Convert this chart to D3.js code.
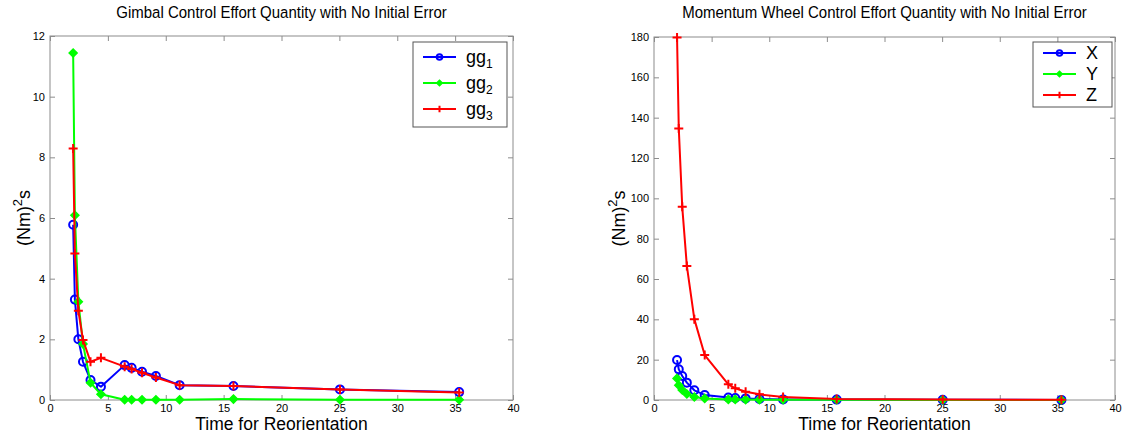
<!DOCTYPE html>
<html>
<head>
<meta charset="utf-8">
<script src="https://cdn.jsdelivr.net/npm/d3@7"></script>
<style>
  body { margin: 0; background: #fff; }
  svg text { font-family: "Liberation Sans", Arial, sans-serif; }
</style>
</head>
<body>
<svg id="chart" width="1131" height="434"></svg>
<script>
// ######### DATA ###########
// time for reorientation (shared by every series)
var times = [2.0, 2.15, 2.45, 2.85, 3.5, 4.4, 6.45, 7.05, 7.95, 9.15, 11.2, 15.85, 25.05, 35.35];

// gimbal effort
var gg1 = [5.78, 3.31, 2.0, 1.26, 0.66, 0.44, 1.15, 1.06, 0.93, 0.79, 0.49, 0.46, 0.35, 0.26];
var gg2 = [11.44, 6.09, 3.24, 1.85, 0.57, 0.19, 0.01, 0.01, 0.01, 0.01, 0.01, 0.03, 0.01, 0.01];
var gg3 = [8.29, 4.83, 2.94, 1.98, 1.26, 1.39, 1.10, 1.02, 0.90, 0.74, 0.49, 0.46, 0.35, 0.25];

// momentum wheel effort
var wX = [19.8, 15.2, 11.9, 8.6, 4.8, 2.5, 1.2, 1.0, 0.8, 0.5, 0.3, 0.2, 0.1, 0.05];
var wY = [10.7, 7.3, 5.0, 3.0, 1.5, 0.8, 0.3, 0.3, 0.2, 0.15, 0.1, 0.1, 0.05, 0.02];
var wZ = [179.7, 134.6, 95.8, 66.5, 40.1, 22.3, 7.8, 5.8, 4.1, 2.8, 1.5, 0.5, 0.2, 0.1];

var xTicks = [0, 5, 10, 15, 20, 25, 30, 35, 40];
var leftYTicks = [0, 2, 4, 6, 8, 10, 12];
var rightYTicks = [0, 20, 40, 60, 80, 100, 120, 140, 160, 180];

var blue = "#0000ff", green = "#00ff00", red = "#ff0000";
var axisColor = "#8c8c8c";

var svg = d3.select("#chart");

function drawPanel(opts) {
    var x = d3.scaleLinear().domain([0, 40]).range([opts.left, opts.right]);
    var y = d3.scaleLinear().domain(opts.yDomain).range([opts.bottom, opts.top]);
    var g = svg.append("g");

    // box
    g.append("rect")
        .attr("x", opts.left).attr("y", opts.top)
        .attr("width", opts.right - opts.left).attr("height", opts.bottom - opts.top)
        .attr("fill", "none").attr("stroke", axisColor).attr("stroke-width", 1);

    // axes, ticks inside (matlab style)
    var xAxis = g.append("g").attr("transform", "translate(0," + opts.bottom + ")")
        .call(d3.axisBottom(x).tickValues(xTicks).tickSizeInner(-5).tickSizeOuter(0).tickPadding(4));
    var xTop = g.append("g").attr("transform", "translate(0," + opts.top + ")")
        .call(d3.axisTop(x).tickValues(xTicks).tickSizeInner(-5).tickSizeOuter(0).tickFormat(""));
    var yAxis = g.append("g").attr("transform", "translate(" + opts.left + ",0)")
        .call(d3.axisLeft(y).tickValues(opts.yTicks).tickSizeInner(-5).tickSizeOuter(0).tickPadding(5));
    var yRight = g.append("g").attr("transform", "translate(" + opts.right + ",0)")
        .call(d3.axisRight(y).tickValues(opts.yTicks).tickSizeInner(-5).tickSizeOuter(0).tickFormat(""));

    [xAxis, xTop, yAxis, yRight].forEach(function(a) {
        a.select(".domain").remove();
        a.selectAll("line").attr("stroke", axisColor);
        a.selectAll("text").attr("fill", "#000").style("font-size", "11px");
    });

    // title and labels
    var cx = (opts.left + opts.right) / 2;
    g.append("text")
        .attr("transform", "translate(" + cx + ",18) scale(1,1.15)")
        .attr("text-anchor", "middle").style("font-size", "15px")
        .text(opts.title);
    g.append("text")
        .attr("x", cx).attr("y", 430)
        .attr("text-anchor", "middle").style("font-size", "17.5px")
        .text("Time for Reorientation");
    var yl = g.append("text")
        .attr("transform", "translate(" + opts.yLabelX + "," + ((opts.top + opts.bottom) / 2) + ") rotate(-90)")
        .attr("text-anchor", "middle").style("font-size", "18px");
    yl.append("tspan").text("(Nm)");
    yl.append("tspan").attr("dy", -8).style("font-size", "13px").text("2");
    yl.append("tspan").attr("dy", 8).text("s");

    var line = d3.line()
        .x(function(d) { return x(d[0]); })
        .y(function(d) { return y(d[1]); });

    opts.series.forEach(function(s) {
        var pts = d3.zip(times, s.values);
        g.append("path").datum(pts)
            .attr("d", line)
            .attr("fill", "none").attr("stroke", s.color).attr("stroke-width", 2)
            .attr("stroke-linejoin", "round");
        drawMarkers(g, pts.map(function(p) { return [x(p[0]), y(p[1])]; }), s.marker, s.color);
    });

    // legend
    var L = opts.legend;
    var lg = g.append("g");
    lg.append("rect")
        .attr("x", L.x).attr("y", L.y)
        .attr("width", L.w).attr("height", L.h)
        .attr("fill", "#fff").attr("stroke", "#555").attr("stroke-width", 1);
    opts.series.forEach(function(s, i) {
        var cy = L.y + L.first + i * L.step;
        var lx = L.x + 10;
        lg.append("line")
            .attr("x1", lx).attr("x2", lx + 33).attr("y1", cy).attr("y2", cy)
            .attr("stroke", s.color).attr("stroke-width", 2);
        drawMarkers(lg, [[lx + 16.5, cy]], s.marker, s.color, 0.7);
        var t = lg.append("text")
            .attr("x", lx + 43).attr("y", cy + 6)
            .style("font-size", "18px");
        t.append("tspan").text(s.name);
        if (s.sub) {
            t.append("tspan").attr("dy", 5).style("font-size", "12px").text(s.sub);
        }
    });
}

function drawMarkers(g, pts, type, color, scale) {
    var k = scale || 1;
    pts.forEach(function(p) {
        if (type === "circle") {
            g.append("circle").attr("cx", p[0]).attr("cy", p[1]).attr("r", 4 * k)
                .attr("fill", "none").attr("stroke", color).attr("stroke-width", 2);
        } else if (type === "diamond") {
            var r = 4 * k;
            g.append("path")
                .attr("d", "M" + p[0] + "," + (p[1] - r) + "L" + (p[0] + r) + "," + p[1] +
                    "L" + p[0] + "," + (p[1] + r) + "L" + (p[0] - r) + "," + p[1] + "Z")
                .attr("fill", color).attr("stroke", color).attr("stroke-width", 1.5);
        } else {
            var r2 = 4.5 * k;
            g.append("path")
                .attr("d", "M" + (p[0] - r2) + "," + p[1] + "H" + (p[0] + r2) +
                    "M" + p[0] + "," + (p[1] - r2) + "V" + (p[1] + r2))
                .attr("stroke", color).attr("stroke-width", 2);
        }
    });
}

drawPanel({
    left: 50, right: 513, top: 36, bottom: 400,
    yDomain: [0, 12], yTicks: leftYTicks, yLabelX: 30,
    title: "Gimbal Control Effort Quantity with No Initial Error",
    legend: { x: 413, y: 42, w: 94, h: 85, first: 15, step: 26 },
    series: [
        { name: "gg", sub: "1", values: gg1, color: blue, marker: "circle" },
        { name: "gg", sub: "2", values: gg2, color: green, marker: "diamond" },
        { name: "gg", sub: "3", values: gg3, color: red, marker: "plus" }
    ]
});

drawPanel({
    left: 654, right: 1115, top: 37, bottom: 400,
    yDomain: [0, 180], yTicks: rightYTicks, yLabelX: 625,
    title: "Momentum Wheel Control Effort Quantity with No Initial Error",
    legend: { x: 1033, y: 42, w: 79, h: 65, first: 11, step: 21 },
    series: [
        { name: "X", values: wX, color: blue, marker: "circle" },
        { name: "Y", values: wY, color: green, marker: "diamond" },
        { name: "Z", values: wZ, color: red, marker: "plus" }
    ]
});
</script>
</body>
</html>
